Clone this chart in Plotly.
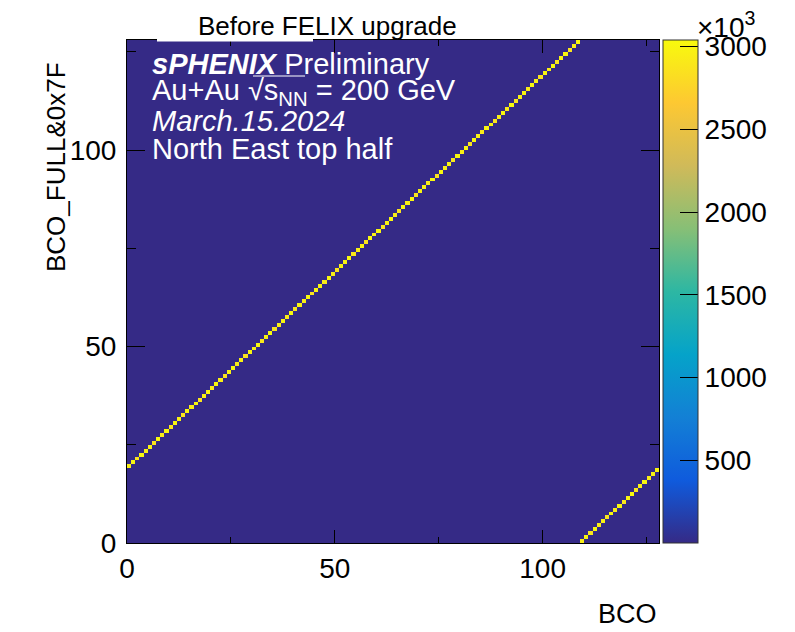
import plotly.graph_objects as go

# ---------------- data ----------------
bco = list(range(128))  # BCO bin index (x)
# BCO_FULL&0x7F bin that is filled for each BCO bin
bco_full = [19, 20, 21, 22, 23, 24, 25, 26, 27, 28, 29, 30, 31, 32, 33, 34,
            35, 36, 37, 38, 39, 40, 41, 42, 43, 44, 45, 46, 47, 48, 49, 50,
            51, 52, 53, 54, 55, 56, 57, 58, 59, 60, 61, 62, 63, 64, 65, 66,
            67, 68, 69, 70, 71, 72, 73, 74, 75, 76, 77, 78, 79, 80, 81, 82,
            83, 84, 85, 86, 87, 88, 89, 90, 91, 92, 93, 94, 95, 96, 97, 98,
            99, 100, 101, 102, 103, 104, 105, 106, 107, 108, 109, 110, 111, 112, 113, 114,
            115, 116, 117, 118, 119, 120, 121, 122, 123, 124, 125, 126, 127, 0, 1, 2,
            3, 4, 5, 6, 7, 8, 9, 10, 11, 12, 13, 14, 15, 16, 17, 18]
# counts (x10^3) in the filled bins
counts_k = [2950, 3010, 2880, 3020, 2960, 3000, 2870, 3030, 2940, 3010, 2900, 3020, 2980, 2890, 3010, 2950,
            3030, 2870, 2990, 3010, 2920, 3020, 2960, 2880, 3000, 3030, 2940, 2990, 2870, 3010, 2960, 3020,
            2900, 2990, 3030, 2880, 2970, 3010, 2940, 3020, 2890, 3000, 2960, 3030, 2870, 2990, 3010, 2930,
            3020, 2950, 2880, 3010, 2990, 3030, 2910, 2970, 3000, 2880, 3020, 2950, 3010, 2900, 2990, 3030,
            2940, 2870, 3010, 2960, 3020, 2890, 3000, 2980, 2930, 3030, 2870, 3010, 2960, 2990, 2900, 3020,
            2950, 3010, 2880, 3030, 2970, 2920, 3000, 3020, 2890, 2960, 3010, 2940, 3030, 2870, 2990, 3000,
            2930, 3020, 2960, 2880, 3010, 2950, 3030, 2900, 2990, 3010, 2870, 2960, 3020, 2940, 3000, 2890,
            3030, 2960, 2980, 2880, 3010, 2940, 3020, 2900, 2990, 3030, 2870, 2970, 3010, 2950, 2990, 3020]
background_k = 0
n_bins = 128
x_ticks = [0, 50, 100]
y_ticks = [0, 50, 100]
cbar_ticks = [500, 1000, 1500, 2000, 2500, 3000]
z_max_k = 3040

# ROOT kBird palette
bird_stops = [0.0, 0.125, 0.25, 0.375, 0.5, 0.625, 0.75, 0.875, 1.0]
bird_r = [0.2082, 0.0592, 0.0780, 0.0232, 0.1802, 0.5301, 0.8186, 0.9956, 0.9764]
bird_g = [0.1664, 0.3599, 0.5041, 0.6419, 0.7178, 0.7492, 0.7328, 0.7862, 0.9832]
bird_b = [0.5293, 0.8684, 0.8385, 0.7914, 0.6425, 0.4662, 0.3499, 0.1968, 0.0539]
colorscale = [[s, f"rgb({int(r*255)},{int(g*255)},{int(b*255)})"]
              for s, r, g, b in zip(bird_stops, bird_r, bird_g, bird_b)]

# ---------------- build histogram ----------------
z = [[background_k] * n_bins for _ in range(n_bins)]
for xb, yb, c in zip(bco, bco_full, counts_k):
    z[yb][xb] = c
edges = list(range(n_bins + 1))

FONT = "Liberation Sans, Arial, Helvetica, sans-serif"

# layout geometry: screen pixels; page body adds an 8 px offset
OFF = 8
W, H = 795, 632
L, R, T, B = 127 - OFF, 659 - OFF, 40 - OFF, 543 - OFF
pw, ph = R - L, B - T


def px_x(p):
    return (p - OFF - L) / pw


def px_y(p):
    return (B - (p - OFF)) / ph


fig = go.Figure()
fig.add_trace(go.Heatmap(
    z=z, x=edges, y=edges,
    colorscale=colorscale, zmin=0, zmax=z_max_k,
    zsmooth=False,
    colorbar=dict(
        x=px_x(663), xanchor="left", xpad=0,
        y=0.5, yanchor="middle", len=1.0, lenmode="fraction", ypad=0,
        thickness=35, thicknessmode="pixels",
        outlinewidth=1, outlinecolor="#333",
        tickvals=cbar_ticks, ticktext=[str(v) for v in cbar_ticks],
        ticks="inside", ticklen=18, tickwidth=1, tickcolor="black",
        tickfont=dict(family=FONT, size=28, color="black"),
    ),
    hoverinfo="skip",
))

axis_common = dict(
    range=[0, n_bins], showgrid=False, zeroline=False,
    showline=True, linecolor="black", linewidth=1, mirror="ticks",
    ticks="inside", tickcolor="black", tickwidth=1,
    tickfont=dict(family=FONT, size=28, color="black"),
)
fig.update_xaxes(**axis_common, tickvals=x_ticks, ticklen=13,
                 minor=dict(dtick=25, tick0=0, ticks="inside", ticklen=6,
                            tickcolor="black", showgrid=False))
fig.update_yaxes(**axis_common, tickvals=y_ticks, ticklen=18, ticklabelstandoff=4,
                 minor=dict(dtick=25, tick0=0, ticks="inside", ticklen=9,
                            tickcolor="black", showgrid=False))

annotations = []
# title
annotations.append(dict(text="Before FELIX upgrade", xref="paper", yref="paper",
                        x=px_x(327), y=px_y(26), xanchor="center", yanchor="middle",
                        showarrow=False, font=dict(family=FONT, size=26, color="black")))
# axis titles
annotations.append(dict(text="BCO", xref="paper", yref="paper",
                        x=px_x(659), y=px_y(614), xanchor="right", yanchor="middle",
                        showarrow=False, font=dict(family=FONT, size=27, color="black")))
annotations.append(dict(text="BCO_FULL&0x7F", xref="paper", yref="paper",
                        x=px_x(56), y=px_y(167), xanchor="center", yanchor="middle",
                        textangle=-90, showarrow=False,
                        font=dict(family=FONT, size=26, color="black")))
# colorbar exponent
annotations.append(dict(text="×10<sup>3</sup>", xref="paper", yref="paper",
                        x=px_x(695), y=px_y(25), xanchor="left", yanchor="middle",
                        showarrow=False, font=dict(family=FONT, size=28, color="black")))
# label lines
label_lines = ["<b><i>sPHENIX</i></b> Preliminary",
               "Au+Au √s<sub>NN</sub> = 200 GeV",
               "<i>March.15.2024</i>",
               "North East top half"]
label_y = [64, 92, 121, 149]
for txt, yy in zip(label_lines, label_y):
    annotations.append(dict(text=txt, xref="paper", yref="paper",
                            x=px_x(150), y=px_y(yy), xanchor="left", yanchor="middle",
                            showarrow=False, font=dict(family=FONT, size=29, color="white")))

shapes = [
    # white gap on the frame under the title box
    dict(type="rect", xref="paper", yref="paper", x0=px_x(157), x1=px_x(313),
         y0=px_y(41.5), y1=px_y(37), fillcolor="white", line=dict(width=0), layer="above"),
    # sqrt overline
    dict(type="line", xref="paper", yref="paper", x0=px_x(253), x1=px_x(305),
         y0=px_y(76), y1=px_y(76), line=dict(color="white", width=1), layer="above"),
]

fig.update_layout(
    width=W, height=H,
    margin=dict(l=L, r=W - R, t=T, b=H - B, pad=0, autoexpand=False),
    paper_bgcolor="white", plot_bgcolor="white",
    annotations=annotations, shapes=shapes,
    showlegend=False,
)

fig.write_html("out.html")
